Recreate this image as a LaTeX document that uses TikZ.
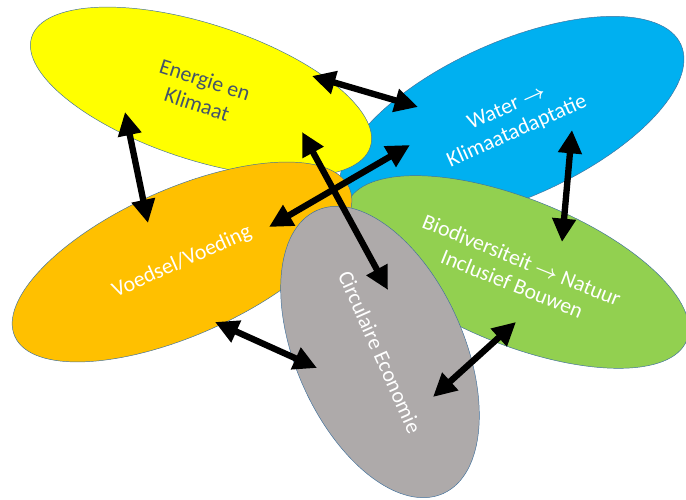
\documentclass[tikz,border=0pt]{standalone}
\usepackage{fontspec}
\setmainfont{Carlito}
\usetikzlibrary{shapes.geometric,arrows.meta}
\definecolor{edge}{HTML}{41719C}
\definecolor{cyel}{HTML}{FFFF00}
\definecolor{cblue}{HTML}{00B0F0}
\definecolor{corange}{HTML}{FFC000}
\definecolor{cgreen}{HTML}{92D050}
\definecolor{cgrey}{HTML}{AEAAAA}
\definecolor{slate}{HTML}{44546A}
\newcommand{\tto}{$\boldsymbol{\rightarrow}$}
\usepackage{amsmath}
\begin{document}
\begin{tikzpicture}[x=0.3mm,y=0.3mm,
theme/.style ={ellipse, draw=edge, line width=0.4pt, inner sep=0pt,
  text=white, align=center, font=\fontsize{18.6}{22}\selectfont
},
link/.style ={black, line width=1.9mm,
  arrows={Triangle[length=7mm,width=6.8mm]-Triangle[length=7mm,width=6.8mm]}
}]
\useasboundingbox (0,0) rectangle (686,500);
% themes, back to front
\node (water) at (512,380) [theme, fill=cblue, rotate=24,
  minimum width=111mm, minimum height=46.8mm] {Water \tto\\Klimaatadaptatie};
\node (energy) at (201,408) [theme, fill=cyel, text=slate, rotate=-18,
  minimum width=106.8mm, minimum height=40.8mm] {Energie en\\Klimaat};
\node (bio) at (517,228) [theme, fill=cgreen, rotate=-22,
  minimum width=109.8mm, minimum height=43.8mm] {Biodiversiteit \tto\ Natuur\\Inclusief Bouwen};
\node (food) at (182,238) [theme, fill=corange, rotate=24,
  minimum width=109.8mm, minimum height=43.8mm] {Voedsel/Voeding};
\node (circ) at (380,148) [theme, fill=cgrey, rotate=-66,
  minimum width=93mm, minimum height=50.4mm] {Circulaire Economie};
% arrow ends
\coordinate (ew) at (312,424);
\coordinate (we) at (418,393);
\coordinate (ef) at (125,388);
\coordinate (fe) at (148,277);
\coordinate (wb) at (572,370);
\coordinate (bw) at (562,258);
\coordinate (wf) at (410,355);
\coordinate (fw) at (269,273);
\coordinate (ec) at (302,368);
\coordinate (ce) at (388,210);
\coordinate (fc) at (215,178);
\coordinate (cf) at (317,132);
\coordinate (bc) at (516,178);
\coordinate (cb) at (433,103);
\draw[link] (ew) -- (we);
\draw[link] (ef) -- (fe);
\draw[link] (wb) -- (bw);
\draw[link] (wf) -- (fw);
\draw[link] (ec) -- (ce);
\draw[link] (fc) -- (cf);
\draw[link] (bc) -- (cb);
\end{tikzpicture}
\end{document}
